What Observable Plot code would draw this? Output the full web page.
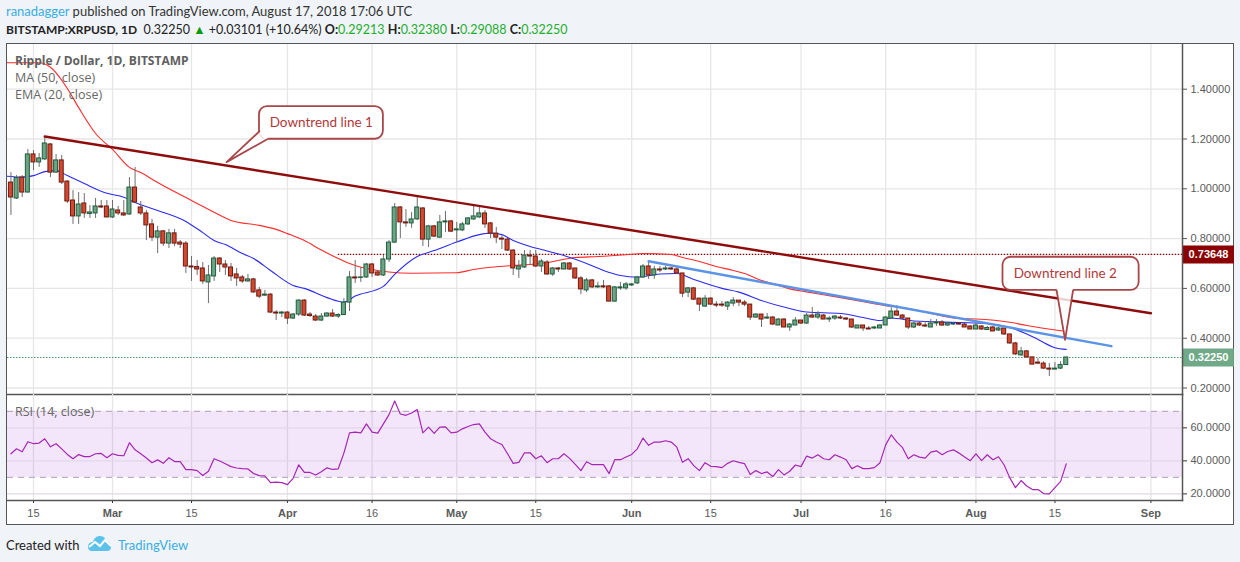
<!DOCTYPE html>
<html><head><meta charset="utf-8">
<script src="https://cdn.jsdelivr.net/npm/d3@7"></script>
<script src="https://cdn.jsdelivr.net/npm/@observablehq/plot@0.6"></script>
<style>
html,body{margin:0;padding:0;background:#f0f3f8;width:1240px;height:562px;overflow:hidden}
#page{position:relative;width:1240px;height:562px;font-family:Lato,sans-serif;color:#333}
#frame{position:absolute;left:6px;top:43px;width:1226px;height:480px;background:#fff;border:1.5px solid #555}
.p{position:absolute;left:0}
.hd{position:absolute;left:6px;white-space:nowrap;font-size:13px}
.lg{position:absolute;left:15px;font:12.5px "Open Sans",sans-serif;color:#666;white-space:nowrap}
.g{color:#1fae2e}
svg{overflow:visible}
</style></head><body>
<div id="page">
<div id="frame"></div>
<div class="hd" style="top:3px"><span style="color:#39aee3">ranadagger</span> published on TradingView.com, August 17, 2018 17:06 UTC</div>
<div class="hd" style="top:22px;color:#222;font-size:12.5px"><b style="font-size:12px">BITSTAMP:XRPUSD, 1D</b>&nbsp; 0.32250 <span style="color:#0a9a0a">▲</span> +0.03101 (+10.64%) <b>O:</b><span class="g">0.29213</span> <b>H:</b><span class="g">0.32380</span> <b>L:</b><span class="g">0.29088</span> <b>C:</b><span class="g">0.32250</span></div>
<div id="topPane" class="p" style="top:0"></div>
<div id="botPane" class="p" style="top:394px"></div>
<div class="lg" style="top:52px;font-weight:700;color:#606060;font-size:12px">Ripple / Dollar, 1D, BITSTAMP</div>
<div class="lg" style="top:69px">MA (50, close)</div>
<div class="lg" style="top:86px">EMA (20, close)</div>
<div class="lg" style="top:403px">RSI (14, close)</div>
<div class="hd" style="top:537px;color:#222">Created with</div>
<svg style="position:absolute;left:87px;top:535px" width="25" height="17" viewBox="0 0 25 17"><path d="M1 12 C1 8 4 7 6 7 C7 3 10 1 13 1 C17 1 19 4 19 6 C22 6 24 9 24 12 C24 15 22 16 20 16 L5 16 C2 16 1 14 1 12Z" fill="#5cc2ea"/><path d="M2 12 L8 7 L13 11 L18 5 L24 11" fill="none" stroke="#fff" stroke-width="2"/></svg>
<div class="hd" style="top:537px;left:118px;color:#39aee3">TradingView</div>
</div>
<script>
const firstDay = Date.UTC(2018, 1, 11);
const dayMs = 864e5;
const opens = [1.025,.961,1.045,.985,1.138,1.106,1.118,1.178,1.065,1.114,1.029,.953,.889,.941,.899,.901,.929,.929,.885,.913,.901,.897,1.005,.925,.901,.857,.804,.829,.780,.821,.784,.780,.688,.686,.680,.624,.648,.720,.696,.684,.656,.644,.628,.636,.592,.571,.575,.503,.499,.503,.479,.495,.551,.495,.487,.471,.487,.499,.487,.493,.543,.644,.642,.644,.696,.664,.652,.716,.784,.925,.865,.861,.877,.921,.796,.849,.804,.865,.869,.833,.833,.857,.877,.885,.901,.861,.820,.800,.796,.752,.676,.684,.732,.728,.688,.704,.656,.680,.676,.700,.680,.640,.592,.632,.604,.608,.608,.547,.600,.600,.612,.620,.644,.688,.652,.676,.676,.680,.676,.660,.583,.600,.559,.527,.559,.535,.535,.527,.539,.551,.543,.535,.483,.495,.479,.483,.451,.475,.443,.451,.471,.459,.491,.483,.491,.475,.479,.483,.479,.475,.439,.451,.439,.439,.439,.451,.479,.507,.491,.479,.443,.459,.451,.443,.459,.463,.451,.455,.459,.455,.447,.435,.447,.433,.443,.431,.439,.415,.379,.331,.347,.323,.302,.298,.278,.274,.278,.29213];
const highs = [1.065,1.053,1.053,1.158,1.154,1.142,1.210,1.182,1.138,1.134,1.033,.993,.985,.981,.933,.961,.953,.953,.953,.929,.953,1.045,1.086,.949,.913,.877,.849,.833,.837,.837,.792,.788,.728,.712,.704,.692,.728,.724,.712,.700,.680,.652,.656,.640,.604,.592,.579,.511,.507,.507,.499,.555,.555,.503,.495,.499,.503,.515,.499,.559,.668,.712,.684,.700,.700,.672,.732,.792,.941,.929,.917,.905,.965,.925,.853,.853,.893,.909,.873,.865,.865,.885,.933,.925,.913,.865,.845,.812,.800,.756,.712,.752,.752,.752,.716,.712,.684,.684,.704,.704,.680,.648,.640,.636,.624,.632,.612,.608,.624,.624,.620,.648,.696,.704,.688,.688,.688,.684,.684,.660,.604,.604,.559,.571,.563,.547,.547,.547,.563,.551,.551,.535,.499,.495,.499,.487,.479,.479,.459,.483,.471,.499,.523,.507,.495,.487,.491,.491,.483,.475,.451,.451,.447,.447,.455,.487,.523,.531,.495,.479,.467,.463,.467,.475,.475,.471,.463,.463,.463,.459,.451,.467,.451,.447,.447,.443,.439,.415,.383,.363,.351,.323,.318,.306,.298,.302,.306,.3238];
const lows = [.893,.957,.965,.983,1.073,1.086,1.114,1.045,1.063,1.017,.941,.857,.857,.881,.881,.881,.921,.883,.881,.893,.889,.893,.941,.893,.792,.788,.740,.768,.760,.768,.760,.660,.628,.652,.616,.539,.628,.664,.652,.628,.608,.620,.624,.580,.559,.567,.499,.471,.483,.455,.475,.487,.487,.483,.467,.467,.483,.483,.479,.491,.507,.620,.624,.640,.644,.648,.648,.704,.780,.800,.845,.841,.873,.768,.764,.804,.800,.824,.824,.784,.828,.853,.873,.881,.841,.800,.780,.756,.748,.652,.640,.680,.692,.684,.664,.652,.648,.664,.674,.672,.636,.575,.583,.600,.600,.600,.547,.545,.592,.592,.608,.616,.640,.636,.636,.664,.672,.672,.656,.563,.563,.551,.507,.523,.531,.523,.523,.511,.527,.527,.527,.471,.479,.443,.475,.451,.451,.443,.427,.451,.455,.455,.479,.475,.475,.463,.471,.475,.471,.439,.439,.427,.435,.435,.439,.451,.479,.487,.475,.435,.439,.447,.443,.443,.447,.447,.447,.451,.451,.443,.435,.435,.431,.431,.427,.427,.411,.375,.331,.327,.319,.294,.294,.274,.246,.274,.274,.29088];
const closes = [.965,1.043,.985,1.138,1.106,1.122,1.182,1.065,1.114,1.025,.949,.889,.937,.901,.905,.929,.925,.885,.917,.901,.893,1.005,.945,.901,.853,.804,.829,.780,.821,.780,.776,.688,.684,.676,.628,.652,.720,.696,.684,.648,.640,.628,.636,.584,.567,.575,.503,.499,.503,.479,.495,.551,.491,.489,.471,.487,.499,.487,.493,.543,.644,.640,.644,.696,.660,.652,.716,.784,.925,.865,.861,.877,.925,.796,.849,.808,.865,.869,.828,.837,.857,.881,.889,.901,.857,.820,.804,.796,.752,.680,.688,.732,.728,.688,.708,.656,.680,.676,.700,.676,.640,.596,.632,.604,.608,.604,.547,.604,.604,.616,.616,.644,.688,.652,.676,.672,.680,.676,.660,.579,.600,.555,.535,.559,.535,.531,.531,.543,.551,.543,.535,.483,.495,.475,.483,.455,.475,.443,.455,.471,.459,.491,.483,.495,.475,.479,.487,.479,.475,.443,.451,.439,.435,.443,.451,.483,.507,.491,.479,.443,.459,.451,.447,.459,.463,.451,.459,.457,.455,.443,.435,.451,.435,.441,.427,.439,.415,.379,.335,.347,.323,.294,.298,.278,.274,.278,.292,.3225];

const rsiValues = [44.3,47.3,45.5,51.6,50.4,50.8,53.4,48.5,50.4,47.3,43.9,41.3,43.8,42.6,42.6,44.3,44.5,41.9,44.3,43.3,43.1,51.0,46.7,44.3,41.7,38.9,40.6,38.5,41.9,39.6,39.5,34.7,34.7,34.1,31.1,33.7,41.3,39.9,38.3,36.5,35.7,35.3,35.1,32.3,31.1,30.9,26.8,27.1,26.8,25.6,29.4,37.6,33.0,33.0,31.4,33.4,35.8,34.8,35.2,44.7,57.0,57.4,57.0,62.4,57.4,56.8,62.4,68.0,76.3,68.4,67.6,69.0,71.1,57.0,60.4,56.6,60.4,60.6,57.0,57.4,59.4,60.8,62.0,62.4,57.4,53.4,51.4,49.9,44.3,38.5,39.1,44.9,44.9,41.3,43.1,38.9,41.3,41.3,44.3,41.5,37.9,34.1,39.5,37.7,37.7,37.7,32.3,40.7,40.7,42.3,43.9,47.3,53.8,49.4,51.4,51.4,52.2,51.4,48.3,39.1,41.3,37.1,34.1,38.9,36.7,36.5,35.9,38.5,40.1,39.1,38.3,31.7,34.1,32.3,33.3,30.5,34.7,31.5,33.7,37.5,36.5,42.9,41.7,43.7,41.3,40.7,43.7,42.3,40.7,35.3,37.1,35.3,35.3,35.9,38.9,49.7,55.8,51.4,48.0,41.3,43.7,42.3,41.7,45.3,46.1,43.7,45.7,46.7,44.7,42.3,40.1,44.3,40.1,43.7,40.7,42.5,37.5,29.7,23.8,28.1,24.8,22.6,22.6,20.2,20.0,23.8,27.6,38.2];

const maDates = ["02-10","02-16","02-18","02-21","02-23","02-26","03-01","03-04","03-06","03-09","03-15","03-19","03-22","03-27","03-30","04-01","04-04","04-07","04-10","04-12","04-13","04-16","04-19","04-23","05-01","05-04","05-07","05-11","05-14","05-17","05-22","05-26","05-31","06-03","06-08","06-10","06-13","06-16","06-19","06-21","06-24","06-27","06-29","07-02","07-08","07-16","07-20","07-24","07-29","08-01","08-07","08-10","08-17"];
const maValues = [1.506,1.506,1.488,1.403,1.326,1.222,1.158,1.086,1.065,1.025,.953,.906,.873,.853,.837,.820,.792,.754,.720,.700,.692,.676,.666,.661,.663,.676,.685,.692,.696,.704,.724,.728,.735,.740,.736,.724,.708,.688,.672,.660,.632,.612,.598,.586,.563,.531,.519,.499,.479,.477,.464,.451,.427];
const emaDates = ["02-10","02-13","02-15","02-17","02-19","02-21","02-24","02-28","03-03","03-05","03-09","03-14","03-17","03-19","03-21","03-24","03-26","03-29","04-02","04-04","04-08","04-11","04-13","04-18","04-20","04-24","04-27","05-01","05-05","05-07","05-09","05-11","05-14","05-16","05-20","05-24","05-27","05-30","06-02","06-06","06-09","06-12","06-17","06-20","06-24","06-29","07-02","07-08","07-12","07-15","07-17","07-21","07-29","08-03","08-07","08-10","08-12","08-15","08-17"];
const emaValues = [1.051,1.047,1.053,1.069,1.073,1.053,1.021,.982,.966,.945,.913,.869,.824,.792,.776,.740,.720,.672,.612,.600,.563,.545,.569,.608,.656,.728,.752,.786,.816,.822,.816,.792,.768,.756,.732,.700,.672,.652,.645,.658,.660,.636,.600,.585,.551,.519,.505,.499,.483,.471,.481,.469,.463,.459,.443,.417,.395,.362,.355];

const trend1Dates = ["02-17","09-01"], trend1Values = [1.21,.50];
const trend2Dates = ["06-04","08-25"], trend2Values = [.709,.368];
const resistance = .73648, lastClose = .3225, resistanceFrom = "04-10";

const priceTicks = [.2,.4,.6,.8,1,1.2,1.4];
const rsiTicks = [20,40,60];
const dayTickDates = ["02-15","03-15","04-16","05-15","06-15","07-16","08-15"];
const monthTickDates = ["03-01","04-01","05-01","06-01","07-01","08-01","09-01"];

const callout1 = {text:"Downtrend line 1", box:["03-27T01:00","04-18T00:00",1.330,1.199], at:["04-07T00:00",1.265], tail:[["03-27T01:00",1.231],["03-21T05:00",1.107],["03-28T10:00",1.199]]};
const callout2 = {text:"Downtrend line 2", box:["08-05T19:00","08-29T22:00",.725,.592], at:["08-16T20:00",.6585], tail:[["08-15T07:00",.592],["08-16T19:00",.3936],["08-18T05:00",.592]]};

const viewStart = "02-10T09:26", viewEnd = "09-06T14:24", tagEnd = "09-15T19:00";

const D = s => new Date("2018-" + s + (s.length > 5 ? ":00Z" : "T00:00:00Z"));
const xDomain = [D(viewStart), D(viewEnd)];
const days = opens.map((o,i) => ({date:new Date(firstDay+i*dayMs), o, h:highs[i], l:lows[i], c:closes[i], rsi:rsiValues[i]}));
const series = (ds,vs) => ds.map((d,i)=>({date:D(d),v:vs[i]}));
const upFill="#6ba583", upLine="#1f5c3d", dnFill="#d2492f", dnLine="#6e1a10", gridC="#e6e6e6", axisC="#555", txt="#5a5a5a";
const hw = .355*dayMs;
const allTicks = [...dayTickDates,...monthTickDates].map(D);
const font = '"Liberation Sans",Arial,sans-serif';

function calloutMarks(c){
  const s="#a8474a", t=c.tail.map(([d,v])=>({date:D(d),v}));
  return [
    Plot.rect([c],{x1:()=>D(c.box[0]),x2:()=>D(c.box[1]),y1:()=>c.box[2],y2:()=>c.box[3],fill:"#fff",fillOpacity:.93,stroke:s,strokeWidth:1.8,rx:8}),
    Plot.line(t,{x:"date",y:"v",fill:"#fff",fillOpacity:.82,stroke:"none"}),
    Plot.link([c],{x1:()=>t[0].date,y1:()=>t[0].v,x2:()=>t[2].date,y2:()=>t[2].v,stroke:"#fff",strokeWidth:3}),
    Plot.line(t,{x:"date",y:"v",stroke:s,strokeWidth:1.8,fill:"none"}),
    Plot.text([c],{x:()=>D(c.at[0]),y:()=>c.at[1],text:"text",fill:"#b03a3a",fontSize:13.5,fontFamily:"Lato,sans-serif"})
  ];
}

const topPlot = Plot.plot({
  width:1240,height:395,marginLeft:7,marginRight:58,marginTop:44,marginBottom:1,
  style:{background:"transparent",fontFamily:font,overflow:"visible"},
  x:{type:"utc",domain:xDomain,axis:null},
  y:{domain:[.1739,1.5795],axis:null},
  marks:[
    Plot.gridX(allTicks,{stroke:gridC,strokeOpacity:1,strokeWidth:1.3}),
    Plot.gridY(priceTicks,{stroke:gridC,strokeOpacity:1,strokeWidth:1.3}),
    Plot.ruleY([resistance],{x1:()=>D(resistanceFrom),x2:()=>xDomain[1],stroke:"#8b0000",strokeDasharray:"1.5,1.5",strokeWidth:1.2}),
    Plot.ruleY([lastClose],{stroke:"#4c9a70",strokeDasharray:"1.5,1.5",strokeWidth:1.2}),
    Plot.line(series(maDates,maValues),{x:"date",y:"v",stroke:"#ff2a2a",strokeWidth:1.1,clip:true,curve:"monotone-x"}),
    Plot.line(series(emaDates,emaValues),{x:"date",y:"v",stroke:"#2a2af0",strokeWidth:1.1,clip:true,curve:"monotone-x"}),
    Plot.ruleX(days,{x:"date",y1:"l",y2:"h",stroke:"#6e6e6e",strokeWidth:1}),
    Plot.rect(days,{x1:d=>+d.date-hw,x2:d=>+d.date+hw,y1:"o",y2:"c",fill:d=>d.c>=d.o?upFill:dnFill,stroke:d=>d.c>=d.o?upLine:dnLine,strokeWidth:1}),
    Plot.line(series(trend1Dates,trend1Values),{x:"date",y:"v",stroke:"#8f0c0c",strokeWidth:2.4}),
    Plot.line(series(trend2Dates,trend2Values),{x:"date",y:"v",stroke:"#5b93e6",strokeWidth:2.4}),
    ...calloutMarks(callout1),
    ...calloutMarks(callout2),
    Plot.axisY(priceTicks,{anchor:"right",tickSize:4,tickPadding:4,tickFormat:d=>d.toFixed(5),fontSize:11,fill:txt,stroke:axisC,label:null,textStroke:"none"}),
    Plot.ruleY([resistance],{x1:()=>xDomain[1],x2:()=>D(tagEnd),stroke:"#8b0000",strokeWidth:18}),
    Plot.ruleY([lastClose],{x1:()=>xDomain[1],x2:()=>D(tagEnd),stroke:"#6fa987",strokeWidth:18}),
    Plot.text([resistance,lastClose],{x:()=>D(tagEnd),y:d=>d,dx:-6,text:d=>d.toFixed(5),textAnchor:"end",fill:"#fff",fontWeight:"bold",fontSize:11}),
    Plot.frame({anchor:"right",stroke:axisC,strokeWidth:1.5}),
    Plot.frame({anchor:"bottom",stroke:axisC,strokeWidth:1.5})
  ]
});
document.getElementById("topPane").append(topPlot);

const botPlot = Plot.plot({
  width:1240,height:132,marginLeft:7,marginRight:58,marginTop:0,marginBottom:26,
  style:{background:"transparent",fontFamily:font,overflow:"visible"},
  x:{type:"utc",domain:xDomain},
  y:{domain:[16,80.2]},
  marks:[
    Plot.gridX(allTicks,{stroke:gridC,strokeOpacity:1,strokeWidth:1.3}),
    Plot.rectY([0],{x1:()=>xDomain[0],x2:()=>xDomain[1],y1:()=>30,y2:()=>70,fill:"#9a2fe0",fillOpacity:.12}),
    Plot.gridY(rsiTicks,{stroke:"#e0d8e8",strokeOpacity:1,strokeWidth:1.3}),
    Plot.ruleY([30,70],{stroke:"#bdaec6",strokeDasharray:"6,5",strokeWidth:1.1}),
    Plot.line(days,{x:"date",y:"rsi",stroke:"#a626b4",strokeWidth:1.2}),
    Plot.axisY(rsiTicks,{anchor:"right",tickSize:4,tickPadding:4,tickFormat:d=>d.toFixed(4),fontSize:11,fill:txt,label:null}),
    Plot.axisX(dayTickDates.map(D),{tickSize:3,tickPadding:6,tickFormat:d=>d.getUTCDate(),fontSize:11,fill:txt,label:null}),
    Plot.axisX(monthTickDates.map(D),{tickSize:3,tickPadding:6,tickFormat:d3.utcFormat("%b"),fontSize:11,fontWeight:"bold",fill:txt,label:null}),
    Plot.frame({anchor:"right",stroke:axisC,strokeWidth:1.5}),
    Plot.frame({anchor:"bottom",stroke:axisC,strokeWidth:1.5})
  ]
});
document.getElementById("botPane").append(botPlot);
</script>
</body></html>
